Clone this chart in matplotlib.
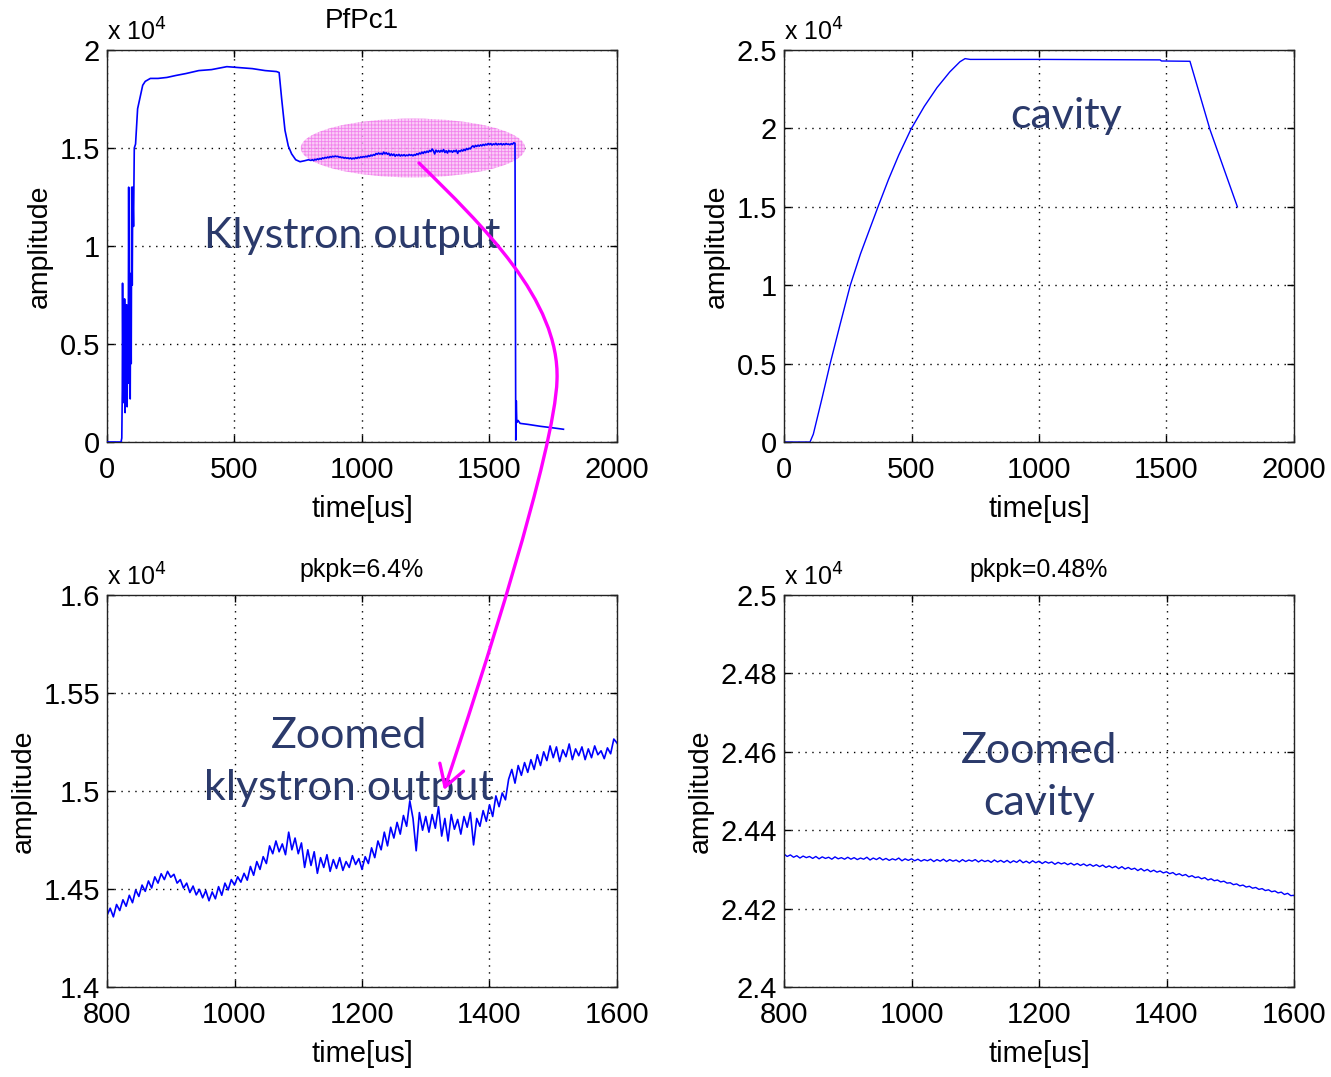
import matplotlib
matplotlib.use("Agg")
import matplotlib.pyplot as plt
import numpy as np
from matplotlib.patches import Ellipse, FancyArrowPatch
from matplotlib.path import Path

# ---- data (amplitude in units of 1e4) ----
# klystron output, zoomed window 800..1600 us, 5 us step
kly_zoom_t = np.arange(800, 1605, 5)
kly_zoom_v = [
    1.4365, 1.4402, 1.4358, 1.4421, 1.4390, 1.4445, 1.4412, 1.4468, 1.4430, 1.4495,
    1.4462, 1.4520, 1.4488, 1.4541, 1.4505, 1.4562, 1.4530, 1.4578, 1.4548, 1.4590,
    1.4560, 1.4575, 1.4530, 1.4548, 1.4505, 1.4530, 1.4482, 1.4515, 1.4470, 1.4498,
    1.4455, 1.4492, 1.4440, 1.4485, 1.4450, 1.4512, 1.4468, 1.4530, 1.4495, 1.4548,
    1.4520, 1.4562, 1.4535, 1.4580, 1.4545, 1.4615, 1.4570, 1.4640, 1.4600, 1.4665,
    1.4630, 1.4720, 1.4680, 1.4745, 1.4690, 1.4730, 1.4675, 1.4790, 1.4700, 1.4760,
    1.4680, 1.4735, 1.4610, 1.4700, 1.4620, 1.4690, 1.4580, 1.4660, 1.4610, 1.4675,
    1.4590, 1.4650, 1.4605, 1.4660, 1.4595, 1.4640, 1.4610, 1.4670, 1.4625, 1.4655,
    1.4600, 1.4665, 1.4630, 1.4710, 1.4660, 1.4745, 1.4700, 1.4790, 1.4720, 1.4815,
    1.4760, 1.4840, 1.4780, 1.4875, 1.4820, 1.4950, 1.4860, 1.4695, 1.4890, 1.4800,
    1.4870, 1.4790, 1.4880, 1.4810, 1.4920, 1.4770, 1.4860, 1.4745, 1.4880, 1.4805,
    1.4855, 1.4780, 1.4870, 1.4815, 1.4890, 1.4725, 1.4860, 1.4820, 1.4900, 1.4845,
    1.4930, 1.4870, 1.4975, 1.4920, 1.4990, 1.4955, 1.5060, 1.5110, 1.5040, 1.5130,
    1.5080, 1.5145, 1.5095, 1.5160, 1.5110, 1.5185, 1.5130, 1.5200, 1.5155, 1.5230,
    1.5170, 1.5225, 1.5150, 1.5210, 1.5175, 1.5240, 1.5160, 1.5215, 1.5180, 1.5225,
    1.5160, 1.5215, 1.5170, 1.5230, 1.5185, 1.5205, 1.5165, 1.5220, 1.5190, 1.5265,
    1.5245,
]

# klystron output, start of pulse (0..790 us)
kly_head_t = [0, 55, 58, 60, 61, 63, 65, 67, 69, 71, 73, 75, 77, 79, 81, 83, 85, 87,
              89, 91, 93, 95, 97, 99, 101, 104, 107, 112, 120, 130, 140, 150, 170,
              200, 235, 270, 310, 360, 410, 470, 520, 570, 620, 665, 675, 685, 698,
              711, 724, 740, 757, 775, 790]
kly_head_v = [0, 0, 0.02, 0.26, 0.81, 0.30, 0.62, 0.20, 0.73, 0.15, 0.60, 0.25, 0.70,
              0.18, 0.65, 0.30, 1.30, 0.35, 0.75, 0.22, 0.86, 0.40, 1.30, 0.80, 1.30,
              1.10, 1.50, 1.52, 1.70, 1.76, 1.82, 1.84, 1.855, 1.855, 1.86, 1.87,
              1.88, 1.895, 1.90, 1.915, 1.91, 1.905, 1.895, 1.89, 1.885, 1.75, 1.59,
              1.51, 1.47, 1.44, 1.43, 1.435, 1.44]

# klystron output, end of pulse (after 1600 us)
kly_tail_t = [1601, 1603, 1605, 1607, 1612, 1620, 1650, 1700, 1750, 1790]
kly_tail_v = [1.00, 0.01, 0.21, 0.10, 0.11, 0.095, 0.09, 0.08, 0.072, 0.065]

# cavity, full pulse
cav_t = [0, 102, 115, 150, 181, 220, 260, 300, 340, 371, 410, 450, 498, 550, 600,
         650, 690, 710, 730, 1000, 1475, 1480, 1592, 1671, 1778]
cav_v = [0, 0, 0.05, 0.285, 0.50, 0.75, 1.00, 1.20, 1.375, 1.51, 1.675, 1.83, 1.995,
         2.14, 2.26, 2.36, 2.425, 2.445, 2.44, 2.44, 2.437, 2.43, 2.428, 1.99, 1.50]

# cavity, zoomed window 800..1600 us, 5 us step
cav_zoom_t = np.arange(800, 1605, 5)
cav_zoom_v = [
    2.4339, 2.4333, 2.4337, 2.4331, 2.4335, 2.4329, 2.4334, 2.4330, 2.4333, 2.4328,
    2.4333, 2.4327, 2.4332, 2.4328, 2.4331, 2.4326, 2.4332, 2.4327, 2.4330, 2.4326,
    2.4331, 2.4326, 2.4330, 2.4325, 2.4329, 2.4326, 2.4331, 2.4324, 2.4329, 2.4325,
    2.4330, 2.4324, 2.4328, 2.4323, 2.4327, 2.4324, 2.4329, 2.4322, 2.4327, 2.4323,
    2.4327, 2.4322, 2.4326, 2.4321, 2.4325, 2.4322, 2.4326, 2.4320, 2.4325, 2.4321,
    2.4326, 2.4320, 2.4325, 2.4321, 2.4324, 2.4319, 2.4325, 2.4320, 2.4324, 2.4321,
    2.4325, 2.4319, 2.4324, 2.4320, 2.4323, 2.4318, 2.4324, 2.4319, 2.4323, 2.4318,
    2.4323, 2.4317, 2.4322, 2.4318, 2.4324, 2.4317, 2.4321, 2.4316, 2.4322, 2.4317,
    2.4321, 2.4315, 2.4320, 2.4316, 2.4319, 2.4313, 2.4318, 2.4314, 2.4317, 2.4312,
    2.4316, 2.4311, 2.4315, 2.4310, 2.4314, 2.4309, 2.4313, 2.4308, 2.4312, 2.4307,
    2.4311, 2.4305, 2.4309, 2.4304, 2.4308, 2.4302, 2.4307, 2.4301, 2.4305, 2.4300,
    2.4303, 2.4297, 2.4302, 2.4296, 2.4300, 2.4294, 2.4298, 2.4293, 2.4296, 2.4291,
    2.4294, 2.4289, 2.4292, 2.4286, 2.4289, 2.4284, 2.4287, 2.4281, 2.4284, 2.4279,
    2.4281, 2.4276, 2.4279, 2.4273, 2.4276, 2.4271, 2.4273, 2.4268, 2.4270, 2.4265,
    2.4266, 2.4261, 2.4263, 2.4258, 2.4260, 2.4255, 2.4257, 2.4252, 2.4254, 2.4249,
    2.4251, 2.4246, 2.4248, 2.4243, 2.4245, 2.4240, 2.4242, 2.4236, 2.4239, 2.4233,
    2.4234,
]

full_xticks = [0, 500, 1000, 1500, 2000]
zoom_xticks = [800, 1000, 1200, 1400, 1600]
kly_yticks = [0, 0.5, 1, 1.5, 2]
kly_ylabels = ["0", "0.5", "1", "1.5", "2"]
cav_yticks = [0, 0.5, 1, 1.5, 2, 2.5]
cav_ylabels = ["0", "0.5", "1", "1.5", "2", "2.5"]
klyz_yticks = [1.4, 1.45, 1.5, 1.55, 1.6]
klyz_ylabels = ["1.4", "1.45", "1.5", "1.55", "1.6"]
cavz_yticks = [2.4, 2.42, 2.44, 2.46, 2.48, 2.5]
cavz_ylabels = ["2.4", "2.42", "2.44", "2.46", "2.48", "2.5"]

W, H = 1331, 1077
TICK_FONT = "Liberation Sans"
NOTE_FONT = "Lato"
NOTE_COLOR = "#2B3A6B"
LINE_BLUE = "#0000FF"

plt.rcParams["hatch.linewidth"] = 0.6
fig = plt.figure(figsize=(W / 100, H / 100), dpi=100)


def px_axes(x0, y0, x1, y1):
    return fig.add_axes([x0 / W, 1 - y1 / H, (x1 - x0) / W, (y1 - y0) / H])


def style(ax, xticks, yticks, ylabels, xlim, ylim):
    ax.set_xlim(*xlim)
    ax.set_ylim(*ylim)
    ax.set_xticks(xticks)
    ax.set_xticklabels([str(t) for t in xticks])
    ax.set_yticks(yticks)
    ax.set_yticklabels(ylabels)
    ax.grid(True, linestyle=(0, (1, 4)), color="black", linewidth=1.0)
    ax.tick_params(direction="in", top=True, right=True, length=5, width=1,
                   labelsize=21)
    ax.tick_params(axis="x", pad=10)
    ax.tick_params(axis="y", pad=5)
    for lab in ax.get_xticklabels() + ax.get_yticklabels():
        lab.set_fontfamily(TICK_FONT)
    for s in ax.spines.values():
        s.set_linewidth(1.0)
        s.set_color("#222222")
    ax.set_xlabel("time[us]", fontsize=21, family=TICK_FONT, labelpad=8)
    ax.set_ylabel("amplitude", fontsize=20.5, family=TICK_FONT, labelpad=5)
    ax.text(0.0, 1.012, r"x 10$^4$", transform=ax.transAxes, fontsize=18,
            family=TICK_FONT, ha="left", va="bottom")


ax1 = px_axes(107, 50, 617, 442)
ax2 = px_axes(784, 50, 1294, 442)
ax3 = px_axes(107, 595, 617, 987)
ax4 = px_axes(784, 595, 1294, 987)

# top left: klystron output
kly_t = np.concatenate([kly_head_t, kly_zoom_t, kly_tail_t])
kly_v = np.concatenate([kly_head_v, kly_zoom_v, kly_tail_v])
ax1.plot(kly_t, kly_v, color=LINE_BLUE, lw=1.2, zorder=3)
style(ax1, full_xticks, kly_yticks, kly_ylabels, (0, 2000), (0, 2))
ax1.set_title("PfPc1", fontsize=20, family=TICK_FONT, pad=16)
ax1.add_patch(Ellipse((1200, 1.50), 880, 0.30, facecolor="#F9C2F5", alpha=0.8,
                      edgecolor="#F070EA", linewidth=0, hatch="+++++", zorder=2))
ax1.text(960, 1.05, "Klystron output", fontsize=31, family=NOTE_FONT,
         color=NOTE_COLOR, ha="center", va="center", zorder=5)

# top right: cavity
ax2.plot(cav_t, cav_v, color=LINE_BLUE, lw=1.0)
style(ax2, full_xticks, cav_yticks, cav_ylabels, (0, 2000), (0, 2.5))
ax2.text(1105, 2.08, "cavity", fontsize=31, family=NOTE_FONT, color=NOTE_COLOR,
         ha="center", va="center")

# bottom left: zoomed klystron output
ax3.plot(kly_zoom_t, kly_zoom_v, color=LINE_BLUE, lw=1.2)
style(ax3, zoom_xticks, klyz_yticks, klyz_ylabels, (800, 1600), (1.4, 1.6))
ax3.set_title("pkpk=6.4%", fontsize=18, family=TICK_FONT, pad=13)
ax3.text(1180, 1.515, "Zoomed\nklystron output", fontsize=31, family=NOTE_FONT,
         color=NOTE_COLOR, ha="center", va="center", linespacing=1.45, zorder=5)

# bottom right: zoomed cavity
ax4.plot(cav_zoom_t, cav_zoom_v, color=LINE_BLUE, lw=1.0)
style(ax4, zoom_xticks, cavz_yticks, cavz_ylabels, (800, 1600), (2.4, 2.5))
ax4.set_title("pkpk=0.48%", fontsize=18, family=TICK_FONT, pad=13)
ax4.text(1200, 2.4535, "Zoomed\ncavity", fontsize=31, family=NOTE_FONT,
         color=NOTE_COLOR, ha="center", va="center", linespacing=1.45)


# magenta curved arrow from the ellipse down to the zoomed plot (figure pixels)
def fp(x, y):
    return (x / W, 1 - y / H)


verts = [fp(419, 163), fp(482, 225), fp(560, 300), fp(557, 380),
         fp(555, 450), fp(481, 680), fp(444, 790)]
codes = [Path.MOVETO] + [Path.CURVE4] * 6
arrow = FancyArrowPatch(path=Path(verts, codes), transform=fig.transFigure,
                        arrowstyle="->,head_length=0.5,head_width=0.3",
                        mutation_scale=30, color="#FF00FF", lw=2.4, zorder=10)
fig.patches.append(arrow)

fig.savefig("out.png", dpi=100)
